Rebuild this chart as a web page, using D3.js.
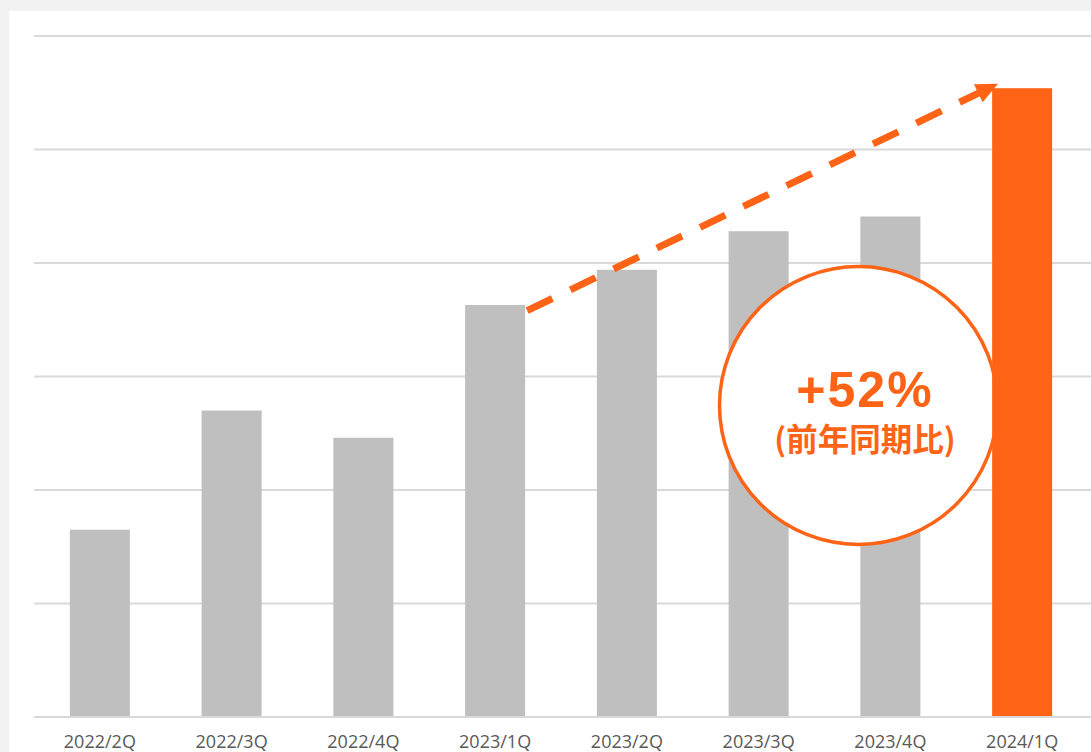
<!DOCTYPE html>
<html>
<head>
<meta charset="utf-8">
<script src="https://cdn.jsdelivr.net/npm/d3@7"></script>
<style>
  html, body { margin: 0; padding: 0; background: #f2f2f2; }
  svg { display: block; }
</style>
</head>
<body>
<div id="vis"></div>
<script>
// Chart data
const quarters = ['2022/2Q', '2022/3Q', '2022/4Q', '2023/1Q', '2023/2Q', '2023/3Q', '2023/4Q', '2024/1Q'];
const values = [1.65, 2.70, 2.46, 3.63, 3.94, 4.28, 4.41, 5.54];
const gridTicks = [0, 1, 2, 3, 4, 5, 6];
const highlight = '2024/1Q';
const growthLabel = '+52%';
const growthNote = '(前年同期比)';
// arrow runs from the 2023/1Q bar to the 2024/1Q bar
const arrowFrom = { cat: '2023/1Q', value: 3.58 };
const arrowTo = { cat: '2024/1Q', value: 5.58 };

const width = 1091;
const height = 752;
const orange = '#ff6316';
const grey = '#bfbfbf';

const margin = { top: 36, left: 34, right: 3, bottom: 35 };

let svg = d3.select('#vis')
    .append('svg')
    .attr('width', width)
    .attr('height', height);

// white panel
svg.append('rect')
    .attr('x', 9)
    .attr('y', 11)
    .attr('width', width)
    .attr('height', height)
    .attr('fill', '#ffffff');

let xScale = d3.scaleBand()
    .domain(quarters)
    .range([margin.left, width - margin.right])
    .paddingInner(0.5445)
    .paddingOuter(0.2722);

let yScale = d3.scaleLinear()
    .domain([0, 6])
    .range([height - margin.bottom, margin.top]);

// gridlines
svg.append('g')
    .selectAll('line')
    .data(gridTicks)
    .join('line')
    .attr('x1', margin.left)
    .attr('x2', width)
    .attr('y1', d => yScale(d))
    .attr('y2', d => yScale(d))
    .attr('stroke', '#d9d9d9')
    .attr('stroke-width', 2);

// grey bars
svg.append('g')
    .selectAll('rect')
    .data(quarters.map((q, i) => ({ q, v: values[i] })).filter(d => d.q !== highlight))
    .join('rect')
    .attr('x', d => xScale(d.q))
    .attr('y', d => yScale(d.v))
    .attr('width', xScale.bandwidth())
    .attr('height', d => yScale(0) - yScale(d.v) - 1)
    .attr('fill', grey);

// x labels
svg.append('g')
    .selectAll('text')
    .data(quarters)
    .join('text')
    .attr('x', d => xScale(d) + xScale.bandwidth() / 2)
    .attr('y', 748)
    .attr('text-anchor', 'middle')
    .attr('font-family', '"Open Sans", sans-serif')
    .attr('font-size', '18px')
    .attr('fill', '#595959')
    .text(d => d);

// growth badge
const badge = { cx: 858.5, cy: 405.5, r: 139 };
svg.append('circle')
    .attr('cx', badge.cx)
    .attr('cy', badge.cy)
    .attr('r', badge.r)
    .attr('fill', '#ffffff')
    .attr('stroke', orange)
    .attr('stroke-width', 3.5);

svg.append('text')
    .attr('x', 865)
    .attr('y', 407)
    .attr('text-anchor', 'middle')
    .attr('font-family', '"Liberation Sans", Arial, sans-serif')
    .attr('font-weight', 'bold')
    .attr('font-size', '50px')
    .attr('letter-spacing', '2px')
    .attr('fill', orange)
    .text(growthLabel);

svg.append('text')
    .attr('x', 865)
    .attr('y', 451)
    .attr('text-anchor', 'middle')
    .attr('font-family', '"Noto Sans CJK JP", sans-serif')
    .attr('font-weight', 'bold')
    .attr('font-size', '31.5px')
    .attr('fill', orange)
    .text(growthNote);

// highlighted bar
svg.append('rect')
    .attr('x', xScale(highlight))
    .attr('y', yScale(values[quarters.indexOf(highlight)]))
    .attr('width', xScale.bandwidth())
    .attr('height', yScale(0) - yScale(values[quarters.indexOf(highlight)]) - 1)
    .attr('fill', orange);

// dashed arrow
const x0 = xScale(arrowFrom.cat) + xScale.bandwidth() + 2;
const y0 = yScale(arrowFrom.value);
const x1 = xScale(arrowTo.cat) + 6;
const y1 = yScale(arrowTo.value);
const ang = Math.atan2(y1 - y0, x1 - x0);
const headLen = 22, headHalf = 10;
const bx = x1 - headLen * Math.cos(ang), by = y1 - headLen * Math.sin(ang);

svg.append('line')
    .attr('x1', x0)
    .attr('y1', y0)
    .attr('x2', bx + 2 * Math.cos(ang))
    .attr('y2', by + 2 * Math.sin(ang))
    .attr('stroke', orange)
    .attr('stroke-width', 7)
    .attr('stroke-dasharray', '28,20');

svg.append('path')
    .attr('d', d3.line()([
        [x1, y1],
        [bx + headHalf * Math.sin(ang), by - headHalf * Math.cos(ang)],
        [bx - headHalf * Math.sin(ang), by + headHalf * Math.cos(ang)]
    ]) + 'Z')
    .attr('fill', orange);
</script>
</body>
</html>
